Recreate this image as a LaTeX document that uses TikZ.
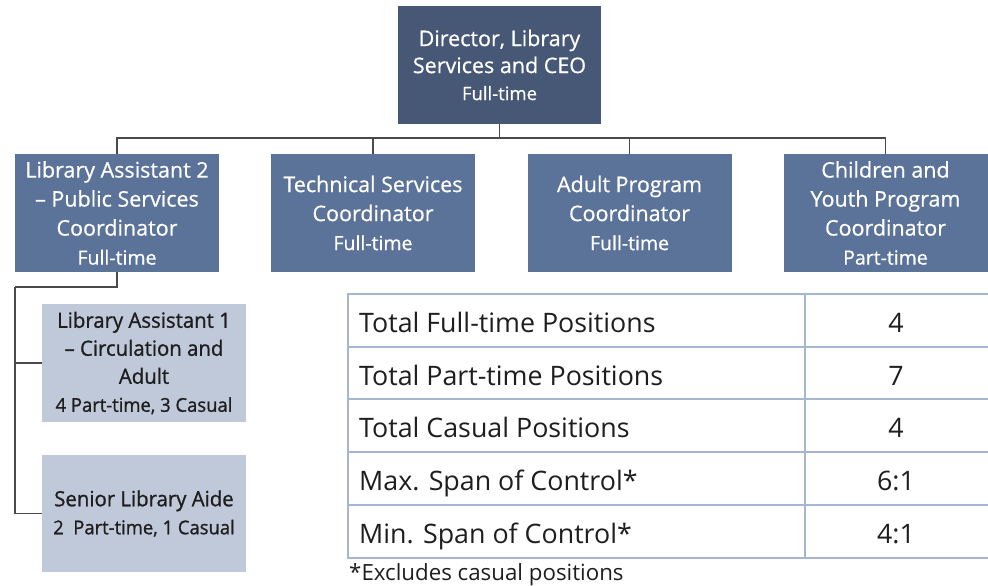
\documentclass[tikz,border=0pt]{standalone}
\usepackage{fontspec}
\setmainfont{Open Sans}
\newfontfamily\whitefont[FakeBold=0.6]{Open Sans}
\newfontfamily\semifont[FakeBold=1,FakeStretch=0.97]{Open Sans}
\definecolor{dirblue}{HTML}{475876}
\definecolor{midblue}{HTML}{5C7399}
\definecolor{lightblue}{HTML}{BFC9DA}
\definecolor{tabline}{HTML}{A7B6D0}
\definecolor{conn}{HTML}{4A4A4A}
\definecolor{txt}{HTML}{1E1E1E}
\begin{document}
\begin{tikzpicture}[x=1pt,y=-1pt,
  dirbox/.style={fill=dirblue,text=white,minimum width=203pt,minimum height=118pt,inner sep=0pt,align=center,font=\whitefont\fontsize{21.5}{27}\selectfont},
  midbox/.style={fill=midblue,text=white,minimum width=204pt,minimum height=118pt,inner sep=0pt,align=center,font=\whitefont\fontsize{21.5}{29}\selectfont},
  lowbox/.style={fill=lightblue,text=txt,minimum width=204pt,minimum height=118pt,inner sep=0pt,align=center,font=\semifont\fontsize{21}{28}\selectfont},
  link/.style={draw=conn,line width=1.3pt},
  tabl/.style={draw=tabline,line width=2pt},
  cell/.style={text=txt,inner sep=0pt,font=\fontsize{26.8}{30}\selectfont}
]
\useasboundingbox (0,0) rectangle (988,586);
% boxes
\node[dirbox] (dir) at (499.5,65) {Director, Library\\Services and CEO\\{\fontsize{18.5}{25}\selectfont Full-time}};
\node[midbox] (la2) at (117,213) {Library Assistant 2\\– Public Services\\Coordinator\\{\fontsize{19.5}{26}\selectfont Full-time}};
\node[midbox] (tech) at (373,213) {Technical Services\\Coordinator\\{\fontsize{19.5}{26}\selectfont Full-time}};
\node[midbox] (adult) at (629.5,213) {Adult Program\\Coordinator\\{\fontsize{19.5}{26}\selectfont Full-time}};
\node[midbox] (child) at (885.5,213) {Children and\\Youth Program\\Coordinator\\{\fontsize{19.5}{26}\selectfont Part-time}};
\node[lowbox] (la1) at (144,363) {Library Assistant 1\\– Circulation and\\Adult\\{\fontsize{19}{24}\selectfont 4 Part-time, 3 Casual}};
\node[lowbox,minimum height=117pt] (sen) at (144,513.5) {Senior Library Aide\\{\fontsize{19}{24}\selectfont 2\ \ Part-time, 1 Casual}};
% connectors
\coordinate (bar) at (499.5,138);
\draw[link] (dir.south) -- (bar);
\draw[link] (bar) -| (la2.north);
\draw[link] (bar) -| (tech.north);
\draw[link] (bar) -| (adult.north);
\draw[link] (bar) -| (child.north);
\coordinate (side) at (15,287);
\draw[link] (la2.south) |- (side);
\draw[link] (side) |- (la1.west);
\draw[link] (side) |- (sen.west);
% table
\draw[tabl] (988,294) -- (348,294) -- (348,558) -- (988,558);
\foreach \yy in {347,399,452,505} \draw[tabl] (348,\yy) -- (988,\yy);
\draw[tabl] (805,294) -- (805,558);
\node[cell,anchor=base west] (r1) at (359,332) {Total Full-time Positions};
\node[cell,anchor=base west] (r2) at (359,385) {Total Part-time Positions};
\node[cell,anchor=base west] (r3) at (359,437) {Total Casual Positions};
\node[cell,anchor=base west] (r4) at (359,490) {Max. Span of Control*};
\node[cell,anchor=base west] (r5) at (359,543) {Min. Span of Control*};
\node[cell,anchor=base] (v1) at (896,332) {4};
\node[cell,anchor=base] (v2) at (896,385) {7};
\node[cell,anchor=base] (v3) at (896,437) {4};
\node[cell,anchor=base] (v4) at (896,490) {6:1};
\node[cell,anchor=base] (v5) at (896,543) {4:1};
\node[cell,anchor=base west,font=\fontsize{22.3}{24}\selectfont] (foot) at (349,580) {*Excludes casual positions};
\end{tikzpicture}
\end{document}
